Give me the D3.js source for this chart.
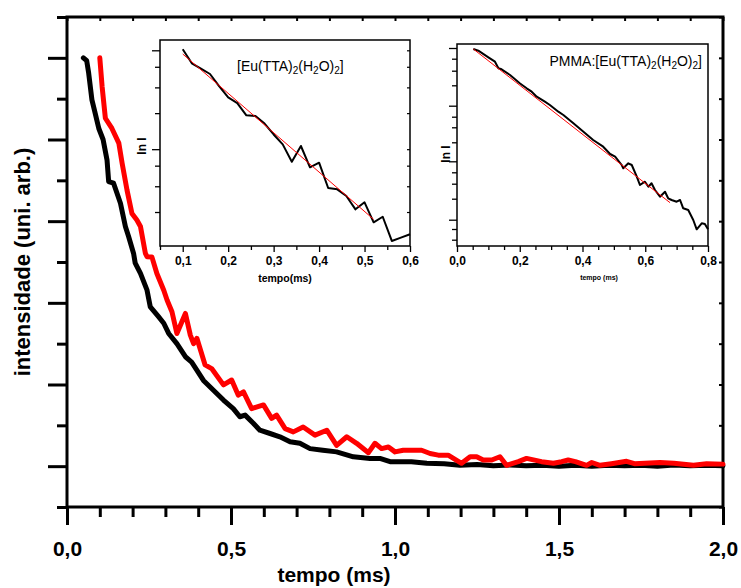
<!DOCTYPE html>
<html><head><meta charset="utf-8">
<script src="https://cdn.jsdelivr.net/npm/d3@7"></script>
<style>
html,body{margin:0;padding:0;background:#fff;}
svg{display:block;font-family:"Liberation Sans",Arial,Helvetica,sans-serif;}
</style></head>
<body>
<svg id="c" width="741" height="588"></svg>
<script>
// ---------- DATA ----------
// Main panel: decay curves (tempo in ms, intensity arb.)
const blackT = [0.05,0.06,0.066,0.076,0.086,0.097,0.11,0.122,0.127,0.142,0.163,0.178,0.188,0.203,0.208,0.224,0.244,0.254,0.279,0.295,0.31,0.335,0.361,0.38,0.416,0.477,0.507,0.527,0.543,0.568,0.588,0.619,0.649,0.68,0.71,0.741,0.78,0.822,0.873,0.924,0.954,0.985,1.05,1.097,1.15,1.198,1.25,1.3,1.35,1.4,1.45,1.5,1.55,1.6,1.65,1.7,1.75,1.8,1.85,1.9,1.95,2.0];
const blackI = [1.0,0.993,0.963,0.897,0.864,0.827,0.80,0.75,0.697,0.693,0.644,0.587,0.562,0.521,0.497,0.472,0.431,0.39,0.366,0.35,0.325,0.30,0.268,0.255,0.21,0.162,0.141,0.121,0.125,0.105,0.088,0.080,0.072,0.06,0.056,0.043,0.039,0.035,0.023,0.019,0.019,0.011,0.011,0.007,0.006,0.002,0.004,0.001,0.003,0.001,0.002,0.0,0.002,0.0,0.002,0.001,0.002,0.0,0.003,0.001,0.002,0.001];
const redT = [0.1,0.107,0.117,0.137,0.158,0.168,0.183,0.198,0.213,0.224,0.239,0.244,0.259,0.274,0.295,0.305,0.32,0.335,0.361,0.376,0.386,0.396,0.421,0.441,0.477,0.502,0.522,0.538,0.563,0.599,0.624,0.639,0.665,0.69,0.72,0.756,0.792,0.822,0.853,0.883,0.919,0.939,0.959,0.98,1.0,1.025,1.081,1.107,1.132,1.162,1.203,1.229,1.249,1.269,1.295,1.32,1.34,1.376,1.401,1.447,1.483,1.508,1.528,1.55,1.584,1.6,1.625,1.66,1.706,1.73,1.808,1.85,1.91,1.95,2.0];
const redI = [1.0,0.93,0.852,0.827,0.791,0.742,0.676,0.619,0.603,0.587,0.521,0.513,0.512,0.472,0.431,0.407,0.378,0.325,0.374,0.321,0.30,0.313,0.248,0.239,0.199,0.211,0.174,0.182,0.141,0.15,0.117,0.125,0.092,0.084,0.096,0.076,0.088,0.051,0.072,0.056,0.033,0.056,0.043,0.047,0.035,0.039,0.039,0.031,0.027,0.027,0.007,0.023,0.023,0.015,0.015,0.023,0.002,0.011,0.019,0.011,0.007,0.011,0.015,0.011,0.002,0.009,0.002,0.006,0.012,0.006,0.009,0.007,0.002,0.006,0.005];
const mainXMajor = [0,0.5,1.0,1.5,2.0];
const mainYMajor = [0,0.2,0.4,0.6,0.8,1.0];

// Inset 1: [Eu(TTA)2(H2O)2], ln I vs tempo
const in1T = [0.10,0.12,0.14,0.16,0.18,0.20,0.22,0.24,0.26,0.28,0.30,0.32,0.34,0.36,0.38,0.40,0.42,0.44,0.46,0.48,0.50,0.52,0.54,0.56,0.58,0.60];
const in1LnI = [0.010,-0.126,-0.177,-0.230,-0.347,-0.458,-0.512,-0.631,-0.638,-0.711,-0.817,-0.913,-1.082,-0.929,-1.136,-1.091,-1.337,-1.350,-1.415,-1.544,-1.476,-1.670,-1.616,-1.851,-1.819,-1.786];
const in1FitT = [0.10,0.52];
const in1FitLnI = [-0.036,-1.641];
const in1XMajor = [0.1,0.2,0.3,0.4,0.5,0.6];
const in1XMinor = [0.05,0.15,0.25,0.35,0.45,0.55];
const in1YMajor = [0.0,-0.96];
const in1YMinor = [-0.16,-0.36,-0.61,-1.12,-1.32,-1.57];

// Inset 2: PMMA:[Eu(TTA)2(H2O)2]
const in2T = [0.052,0.068,0.1,0.121,0.132,0.142,0.169,0.2,0.222,0.238,0.254,0.28,0.296,0.323,0.339,0.371,0.403,0.434,0.466,0.488,0.504,0.525,0.53,0.546,0.557,0.573,0.583,0.599,0.61,0.62,0.631,0.647,0.663,0.673,0.684,0.7,0.711,0.721,0.737,0.753,0.764,0.78,0.79,0.8];
const in2LnI = [0.05,0.033,-0.033,-0.077,-0.143,-0.153,-0.21,-0.293,-0.343,-0.377,-0.427,-0.477,-0.51,-0.577,-0.61,-0.693,-0.777,-0.86,-0.927,-1.0,-1.027,-1.11,-1.143,-1.093,-1.11,-1.227,-1.31,-1.277,-1.327,-1.293,-1.36,-1.427,-1.377,-1.443,-1.46,-1.477,-1.46,-1.543,-1.56,-1.66,-1.753,-1.693,-1.70,-1.753];
const in2FitT = [0.052,0.679];
const in2FitLnI = [0.05,-1.487];
const in2XMajor = [0,0.2,0.4,0.6,0.8];
const in2XMinor = [0.05,0.1,0.15,0.25,0.3,0.35,0.45,0.5,0.55,0.65,0.7,0.75];
const in2YMajor = [0.06,-0.517,-1.073,-1.657];
const in2YMinor = [-0.047,-0.167,-0.313,-0.627,-0.733,-0.883,-1.183,-1.297,-1.447,-1.75,-1.857];

// ---------- DRAW ----------
const svg = d3.select("#c");
const fmt = d => d3.format(".1f")(d).replace(".", ",");

function axis(g, gen, vals, size, pad, labels, sw) {
  g.call(gen.tickValues(vals).tickSize(size).tickPadding(pad).tickFormat(labels ? fmt : ""));
  g.select(".domain").remove();
  g.selectAll(".tick line").attr("stroke", "#000").attr("stroke-width", sw);
  return g;
}

// Main scales
const x = d3.scaleLinear([0, 2], [67, 723]);
const y = d3.scaleLinear([-0.1, 1.1], [507, 17]);
const line = (sx, sy) => d3.line().x(d => sx(d[0])).y(d => sy(d[1]));

const allX01 = d3.range(0, 21).map(i => i / 10);
const allY01 = d3.range(-1, 12).map(i => i / 10);
const mainXMinor = allX01.filter(v => !mainXMajor.some(m => Math.abs(m - v) < 1e-9));
const mainYMinor = allY01.filter(v => !mainYMajor.some(m => Math.abs(m - v) < 1e-9));

axis(svg.append("g").attr("transform", "translate(0,507)"), d3.axisBottom(x), mainXMinor, 10, 0, false, 3);
const gxM = axis(svg.append("g").attr("transform", "translate(0,507)"), d3.axisBottom(x), mainXMajor, 18, 16, true, 3);
gxM.selectAll("text").attr("font-size", 21).attr("font-weight", "bold").attr("fill", "#000");
axis(svg.append("g").attr("transform", "translate(67,0)"), d3.axisLeft(y), mainYMinor, 10, 0, false, 3);
axis(svg.append("g").attr("transform", "translate(67,0)"), d3.axisLeft(y), mainYMajor, 19, 0, false, 3);
// mirrored inner ticks top/right
axis(svg.append("g").attr("transform", "translate(0,17)"), d3.axisBottom(x), allX01, 4, 0, false, 2);
axis(svg.append("g").attr("transform", "translate(723,0)"), d3.axisLeft(y), allY01, 4, 0, false, 2);

svg.append("rect").attr("x", x(0)).attr("y", y(1.1)).attr("width", x(2) - x(0)).attr("height", y(-0.1) - y(1.1))
  .attr("fill", "none").attr("stroke", "#000").attr("stroke-width", 3);

svg.append("path").datum(d3.zip(blackT, blackI)).attr("d", line(x, y))
  .attr("fill", "none").attr("stroke", "#000").attr("stroke-width", 5).attr("stroke-linejoin", "round").attr("stroke-linecap", "round");
svg.append("path").datum(d3.zip(redT, redI)).attr("d", line(x, y))
  .attr("fill", "none").attr("stroke", "#ff0000").attr("stroke-width", 5).attr("stroke-linejoin", "round").attr("stroke-linecap", "round");

svg.append("text").attr("x", 334).attr("y", 582).attr("text-anchor", "middle")
  .attr("font-size", 21).attr("font-weight", "bold").text("tempo (ms)");
svg.append("text").attr("transform", "translate(30,262) rotate(-90)").attr("text-anchor", "middle")
  .attr("font-size", 22).attr("font-weight", "bold").text("intensidade (uni. arb.)");

// ---------- Insets ----------
function inset(cfg) {
  const sx = d3.scaleLinear(cfg.xd, [cfg.l, cfg.r]);
  const sy = d3.scaleLinear(cfg.yd, [cfg.b, cfg.t]);
  const g = svg.append("g");
  g.append("rect").attr("x", cfg.l).attr("y", cfg.t).attr("width", cfg.r - cfg.l).attr("height", cfg.b - cfg.t).attr("fill", "#fff");
  axis(g.append("g").attr("transform", `translate(0,${cfg.b})`), d3.axisBottom(sx), cfg.xMinor, 4, 0, false, 1.3);
  const gx = axis(g.append("g").attr("transform", `translate(0,${cfg.b})`), d3.axisBottom(sx), cfg.xMajor, 6, 4, true, 1.3);
  gx.selectAll("text").attr("font-size", 12).attr("font-weight", "bold").attr("fill", "#000");
  axis(g.append("g").attr("transform", `translate(${cfg.l},0)`), d3.axisLeft(sy), cfg.yMinor, 5, 0, false, 1.3);
  axis(g.append("g").attr("transform", `translate(${cfg.l},0)`), d3.axisLeft(sy), cfg.yMajor, 8, 0, false, 1.3);
  if (cfg.rightTicks) {
    axis(g.append("g").attr("transform", `translate(${cfg.r},0)`), d3.axisRight(sy), cfg.yMajor.concat(cfg.yMinor), -3, 0, false, 1.2);
  }
  g.append("rect").attr("x", cfg.l).attr("y", cfg.t).attr("width", cfg.r - cfg.l).attr("height", cfg.b - cfg.t)
    .attr("fill", "none").attr("stroke", "#000").attr("stroke-width", 1.5);
  g.append("path").datum(d3.zip(cfg.dT, cfg.dV)).attr("d", line(sx, sy))
    .attr("fill", "none").attr("stroke", "#000").attr("stroke-width", 2).attr("stroke-linejoin", "round");
  g.append("path").datum(d3.zip(cfg.fT, cfg.fV)).attr("d", line(sx, sy))
    .attr("fill", "none").attr("stroke", "#ff0000").attr("stroke-width", 1);
  g.append("text").attr("x", cfg.xlab[0]).attr("y", cfg.xlab[1]).attr("text-anchor", "middle")
    .attr("font-size", cfg.xlab[2]).attr("font-weight", "bold").text(cfg.xlab[3]);
  g.append("text").attr("transform", `translate(${cfg.ylab[0]},${cfg.ylab[1]}) rotate(-90)`).attr("text-anchor", "middle")
    .attr("font-size", 12).attr("font-weight", "bold").text("ln I");
  const t = g.append("text").attr("x", cfg.title[0]).attr("y", cfg.title[1]).attr("text-anchor", cfg.title[2]).attr("font-size", 14);
  const parts = [[cfg.prefix + "[Eu(TTA)", 0], ["2", 1], ["(H", 0], ["2", 1], ["O)", 0], ["2", 1], ["]", 0]];
  parts.forEach((p, i) => {
    const prevSub = i > 0 && parts[i - 1][1] === 1;
    const s = t.append("tspan").text(p[0]).attr("dy", p[1] ? 3 : (prevSub ? -3 : 0));
    if (p[1]) s.attr("font-size", 10);
  });
}

inset({
  l: 160, r: 410, t: 40, b: 246, xd: [0.05, 0.6], yd: [-1.9, 0.1],
  xMajor: in1XMajor, xMinor: in1XMinor, yMajor: in1YMajor, yMinor: in1YMinor, rightTicks: true,
  dT: in1T, dV: in1LnI, fT: in1FitT, fV: in1FitLnI,
  xlab: [285, 282, 10.5, "tempo(ms)"], ylab: [146, 146],
  title: [237, 71, "start"], prefix: ""
});
inset({
  l: 457, r: 708, t: 44, b: 246, xd: [0, 0.8], yd: [-1.92, 0.1],
  xMajor: in2XMajor, xMinor: in2XMinor, yMajor: in2YMajor, yMinor: in2YMinor, rightTicks: false,
  dT: in2T, dV: in2LnI, fT: in2FitT, fV: in2FitLnI,
  xlab: [599, 280, 7, "tempo (ms)"], ylab: [450, 154],
  title: [702, 66, "end"], prefix: "PMMA:"
});
</script>
</body></html>
